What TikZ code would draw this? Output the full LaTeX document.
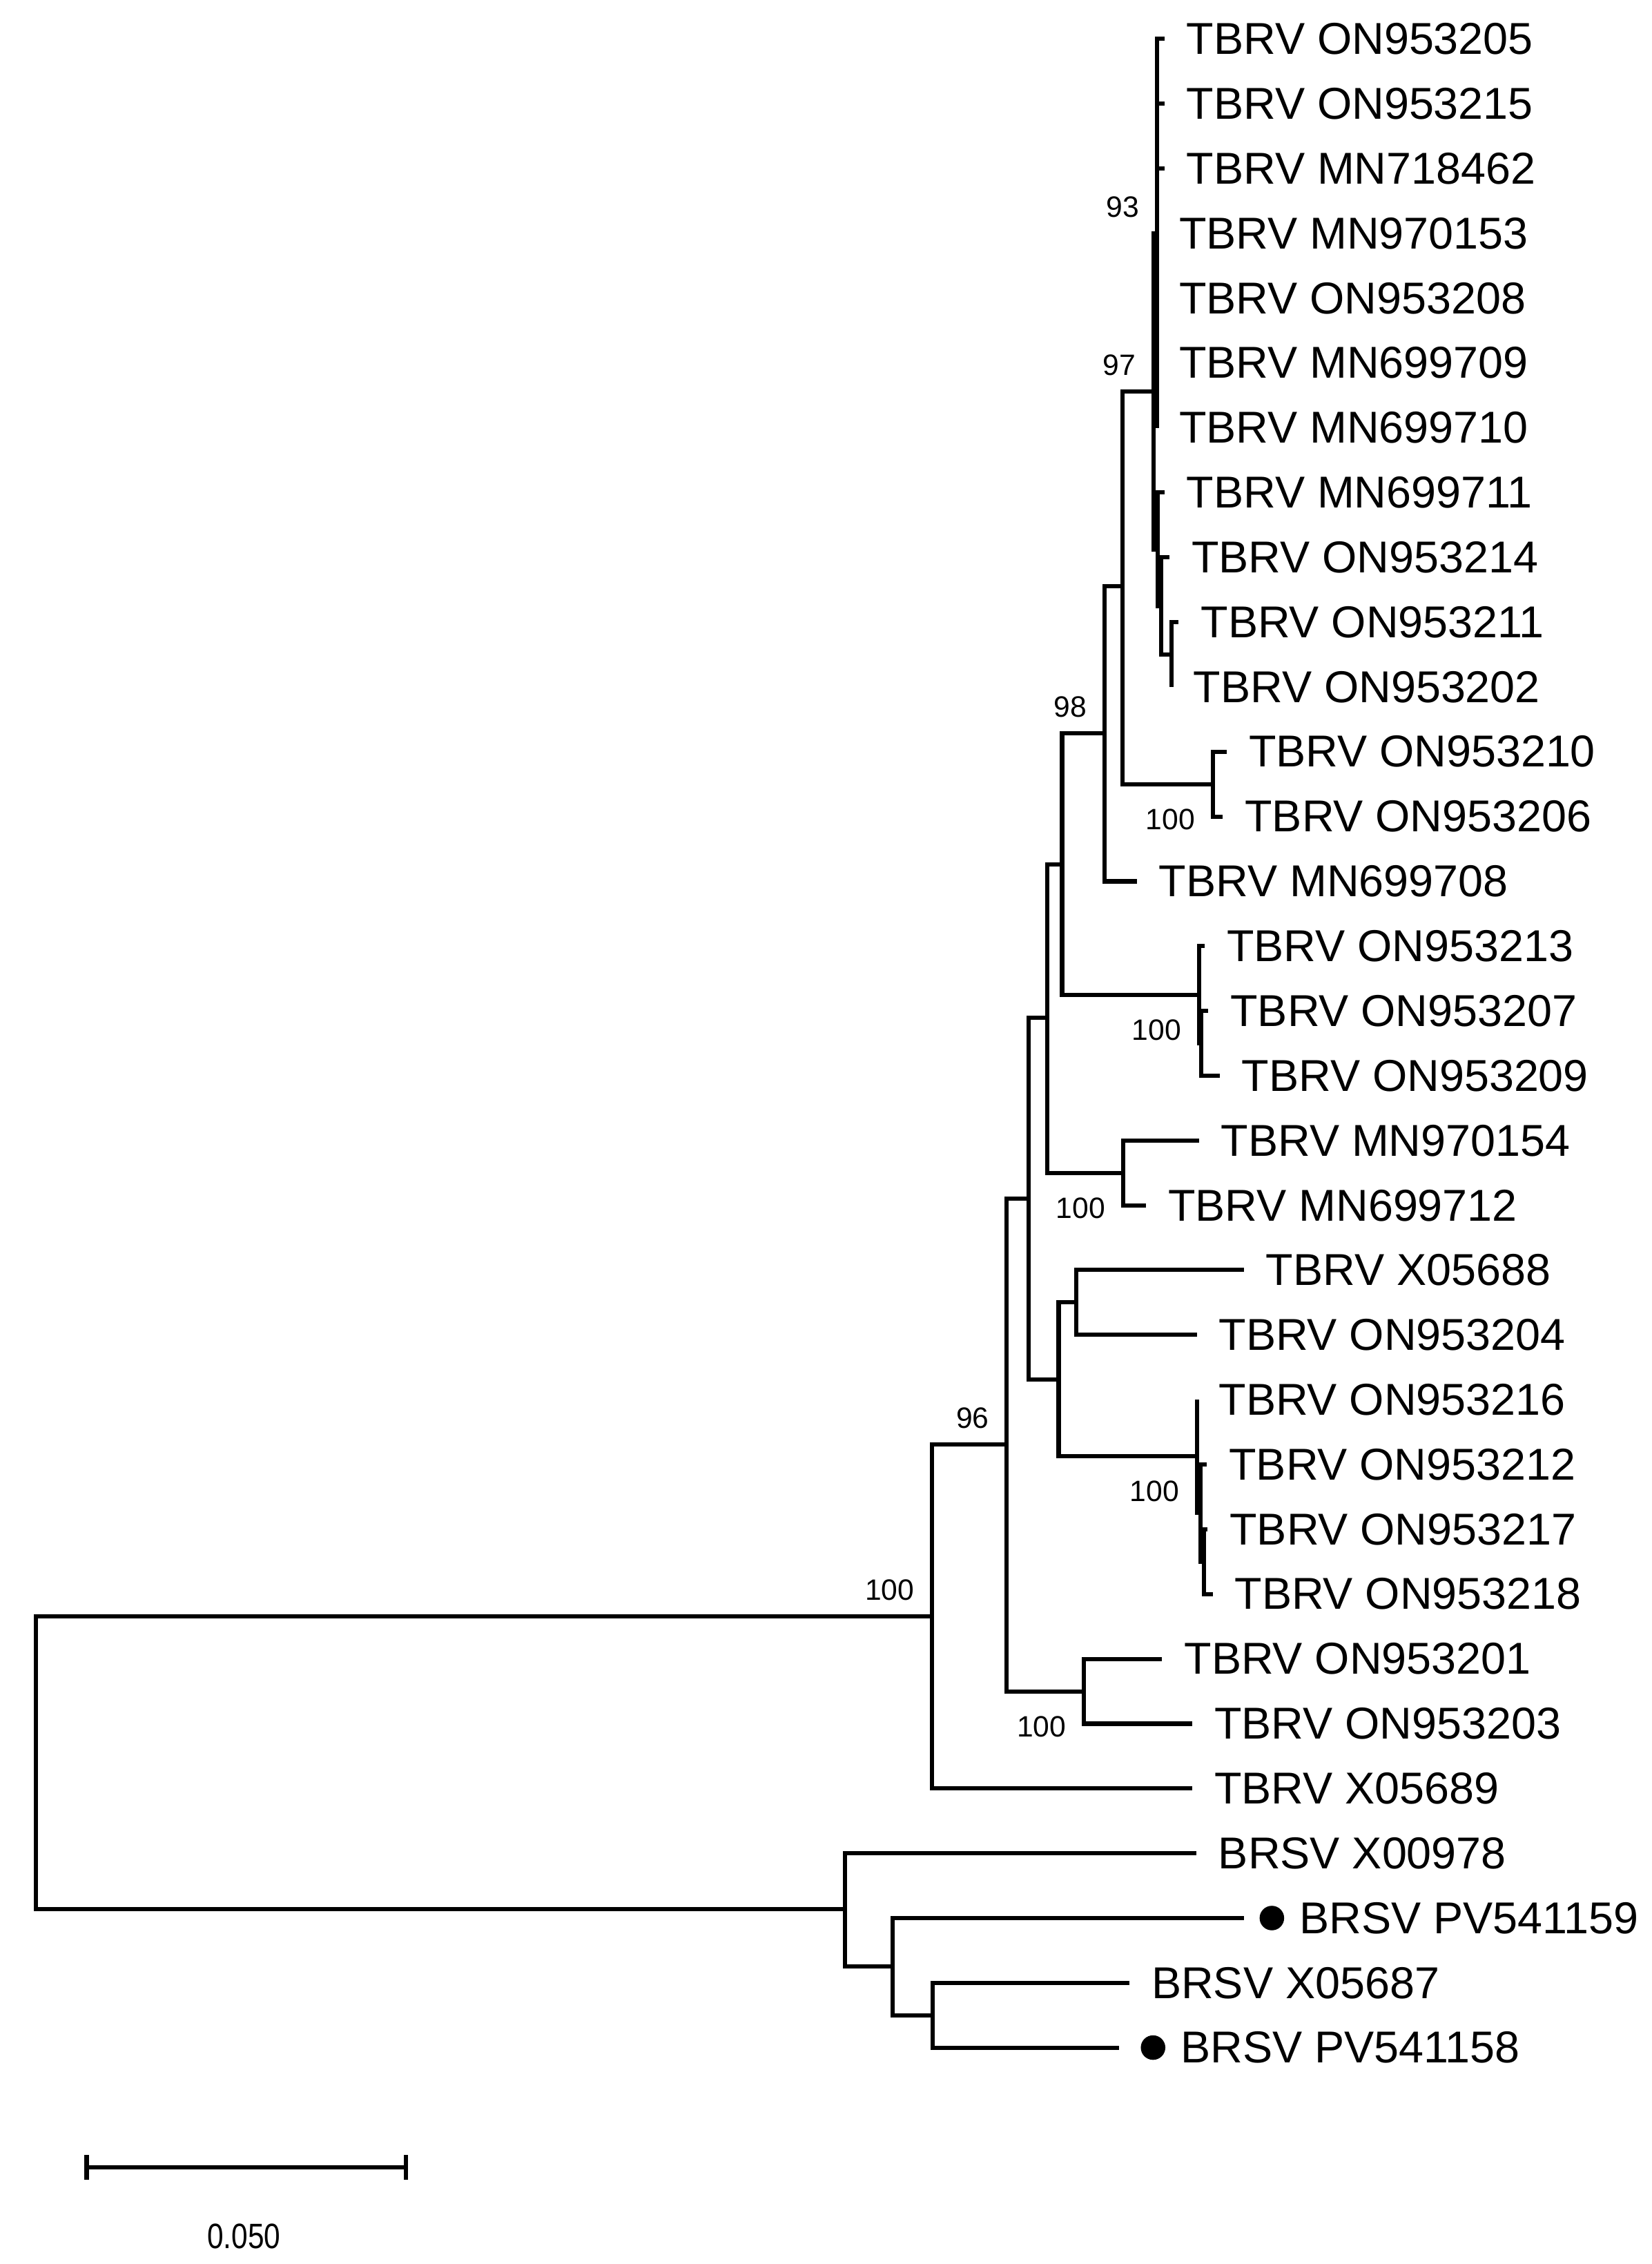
\documentclass[tikz,border=0pt]{standalone}
\usepackage{fontspec}
\setmainfont{Liberation Sans}
\usetikzlibrary{positioning}
\tikzset{
  branch/.style={line width=1.65pt},
  leaf/.style={anchor=west, inner xsep=0.3cm, inner ysep=0pt, font=\fontsize{17.6}{20}\selectfont},
  boot/.style={inner sep=0pt, font=\fontsize{11.6}{13}\selectfont},
  bootup/.style={boot, above left=0.215cm and 0.24cm of #1},
  bootdown/.style={boot, below left=0.335cm and 0.24cm of #1},
  tipdot/.style={circle, fill, inner sep=0pt, minimum size=0.34cm},
}
\begin{document}
\begin{tikzpicture}[x=0.02cm, y=-0.02cm]
    \useasboundingbox (0,0) rectangle (1144,1568);
    \coordinate (root) at (25,1220.9);
    \coordinate (tbrv) at (645.6,1119.5);
    \coordinate (n96) at (697.4,1000.4);
    \coordinate (nd) at (712.6,830);
    \coordinate (ne) at (725.3,704.7);
    \coordinate (nc) at (735.7,598.9);
    \coordinate (na) at (764.9,507.7);
    \coordinate (nb) at (777.6,406);
    \coordinate (n97) at (799,271.2);
    \coordinate (n93) at (801.5,161.6);
    \coordinate (nq) at (802,380.6);
    \coordinate (nq2) at (804.5,419.7);
    \coordinate (np) at (811.4,453.4);
    \coordinate (nm) at (840,543.1);
    \coordinate (nl) at (830.5,689);
    \coordinate (nl2) at (832,722.6);
    \coordinate (nk) at (777.9,812.4);
    \coordinate (nf) at (733.3,955.3);
    \coordinate (nj) at (745.3,902);
    \coordinate (ng) at (829,1008.6);
    \coordinate (nh) at (831.5,1047.9);
    \coordinate (nh2) at (834,1081.5);
    \coordinate (ni) at (750.8,1171.4);
    \coordinate (brsv) at (585.2,1322.3);
    \coordinate (ns2) at (618.3,1362);
    \coordinate (ns3) at (646,1395.7);
    \coordinate (tip159) at (861.7,1328.4);
    \coordinate (tip158) at (775.2,1418.1);

    \node (on953205) [leaf] at (806.6,27.0) {TBRV ON953205};
    \node (on953215) [leaf] at (806.6,71.9) {TBRV ON953215};
    \node (mn718462) [leaf] at (806.6,116.8) {TBRV MN718462};
    \node (mn970153) [leaf] at (801.5,161.6) {TBRV MN970153};
    \node (on953208) [leaf] at (801.5,206.5) {TBRV ON953208};
    \node (mn699709) [leaf] at (801.5,251.4) {TBRV MN699709};
    \node (mn699710) [leaf] at (801.5,296.3) {TBRV MN699710};
    \node (mn699711) [leaf] at (806.6,341.1) {TBRV MN699711};
    \node (on953214) [leaf] at (810.1,386.0) {TBRV ON953214};
    \node (on953211) [leaf] at (816.5,430.9) {TBRV ON953211};
    \node (on953202) [leaf] at (811.4,475.8) {TBRV ON953202};
    \node (on953210) [leaf] at (849.7,520.6) {TBRV ON953210};
    \node (on953206) [leaf] at (847,565.5) {TBRV ON953206};
    \node (mn699708) [leaf] at (787.5,610.4) {TBRV MN699708};
    \node (on953213) [leaf] at (834.5,655.3) {TBRV ON953213};
    \node (on953207) [leaf] at (837,700.1) {TBRV ON953207};
    \node (on953209) [leaf] at (844.9,745.0) {TBRV ON953209};
    \node (mn970154) [leaf] at (830.5,789.9) {TBRV MN970154};
    \node (mn699712) [leaf] at (793.9,834.8) {TBRV MN699712};
    \node (x05688) [leaf] at (861.6,879.6) {TBRV X05688};
    \node (on953204) [leaf] at (829,924.5) {TBRV ON953204};
    \node (on953216) [leaf] at (829,969.4) {TBRV ON953216};
    \node (on953212) [leaf] at (836,1014.3) {TBRV ON953212};
    \node (on953217) [leaf] at (836.5,1059.1) {TBRV ON953217};
    \node (on953218) [leaf] at (840,1104.0) {TBRV ON953218};
    \node (on953201) [leaf] at (805,1148.9) {TBRV ON953201};
    \node (on953203) [leaf] at (825.8,1193.8) {TBRV ON953203};
    \node (x05689) [leaf] at (825.8,1238.6) {TBRV X05689};
    \node (x00978) [leaf] at (828.6,1283.5) {BRSV X00978};
    \node (dot159) [tipdot] at (881,1328.4) {};
    \node (pv541159) [leaf, inner xsep=0.2cm, right=0pt of dot159] {BRSV PV541159};
    \node (x05687) [leaf] at (782.3,1373.3) {BRSV X05687};
    \node (dot158) [tipdot] at (798.7,1418.1) {};
    \node (pv541158) [leaf, inner xsep=0.2cm, right=0pt of dot158] {BRSV PV541158};

    \node (bs93) [bootup=n93] {93};
    \node (bs97) [bootup=n97] {97};
    \node (bs98) [bootup=na] {98};
    \node (bsm) [bootdown=nm] {100};
    \node (bsl) [bootdown=nl] {100};
    \node (bsk) [bootdown=nk] {100};
    \node (bs96) [bootup=n96] {96};
    \node (bsg) [bootdown=ng] {100};
    \node (bstbrv) [bootup=tbrv] {100};
    \node (bsi) [bootdown=ni] {100};

    \draw [branch] (root) |- (tbrv);
    \draw [branch] (root) |- (brsv);
    \draw [branch] (tbrv) |- (n96);
    \draw [branch] (tbrv) |- (x05689.west);
    \draw [branch] (n96) |- (nd);
    \draw [branch] (n96) |- (ni);
    \draw [branch] (nd) |- (ne);
    \draw [branch] (nd) |- (nf);
    \draw [branch] (ne) |- (nc);
    \draw [branch] (ne) |- (nk);
    \draw [branch] (nc) |- (na);
    \draw [branch] (nc) |- (nl);
    \draw [branch] (na) |- (nb);
    \draw [branch] (na) |- (mn699708.west);
    \draw [branch] (nb) |- (n97);
    \draw [branch] (nb) |- (nm);
    \draw [branch] (n97) |- (n93);
    \draw [branch] (n97) |- (nq);
    \draw [branch] (n93) |- (on953205.west);
    \draw [branch] (n93) |- (on953215.west);
    \draw [branch] (n93) |- (mn718462.west);
    \draw [branch] (n93) |- (mn970153.west);
    \draw [branch] (n93) |- (on953208.west);
    \draw [branch] (n93) |- (mn699709.west);
    \draw [branch] (n93) |- (mn699710.west);
    \draw [branch] (nq) |- (mn699711.west);
    \draw [branch] (nq) |- (nq2);
    \draw [branch] (nq2) |- (on953214.west);
    \draw [branch] (nq2) |- (np);
    \draw [branch] (np) |- (on953211.west);
    \draw [branch] (np) |- (on953202.west);
    \draw [branch] (nm) |- (on953210.west);
    \draw [branch] (nm) |- (on953206.west);
    \draw [branch] (nl) |- (on953213.west);
    \draw [branch] (nl) |- (nl2);
    \draw [branch] (nl2) |- (on953207.west);
    \draw [branch] (nl2) |- (on953209.west);
    \draw [branch] (nk) |- (mn970154.west);
    \draw [branch] (nk) |- (mn699712.west);
    \draw [branch] (nf) |- (nj);
    \draw [branch] (nf) |- (ng);
    \draw [branch] (nj) |- (x05688.west);
    \draw [branch] (nj) |- (on953204.west);
    \draw [branch] (ng) |- (on953216.west);
    \draw [branch] (ng) |- (nh);
    \draw [branch] (nh) |- (on953212.west);
    \draw [branch] (nh) |- (nh2);
    \draw [branch] (nh2) |- (on953217.west);
    \draw [branch] (nh2) |- (on953218.west);
    \draw [branch] (ni) |- (on953201.west);
    \draw [branch] (ni) |- (on953203.west);
    \draw [branch] (brsv) |- (x00978.west);
    \draw [branch] (brsv) |- (ns2);
    \draw [branch] (ns2) |- (tip159);
    \draw [branch] (ns2) |- (ns3);
    \draw [branch] (ns3) |- (x05687.west);
    \draw [branch] (ns3) |- (tip158);

    \coordinate (bar0) at (60,1501);
    \coordinate (bar1) at (281,1501);
    \draw [branch] (bar0) -- (bar1);
    \draw [branch] (60,1492.5) -- (60,1509.5);
    \draw [branch] (281,1492.5) -- (281,1509.5);
    \node (barlabel) [inner sep=0pt, font=\fontsize{13.9}{15}\selectfont] at (169,1549) {\scalebox{0.83}[1]{0.050}};
\end{tikzpicture}
\end{document}
